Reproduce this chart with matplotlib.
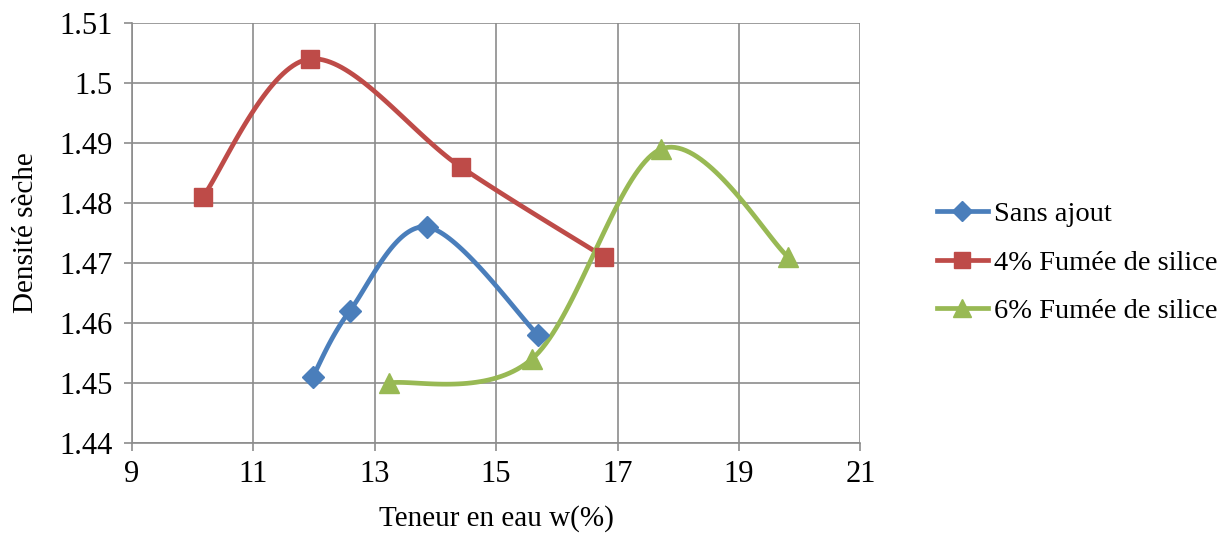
import numpy as np
import matplotlib
matplotlib.use("Agg")
import matplotlib.pyplot as plt

plt.rcParams['font.family'] = ['Liberation Serif', 'DejaVu Serif']

# data
w_sans = [11.98, 12.59, 13.86, 15.69]
d_sans = [1.451, 1.462, 1.476, 1.458]

w_4 = [10.17, 11.93, 14.42, 16.78]
d_4 = [1.481, 1.504, 1.486, 1.471]

w_6 = [13.24, 15.59, 17.72, 19.81]
d_6 = [1.450, 1.454, 1.489, 1.471]

labels = ['Sans ajout', '4% Fumée de silice', '6% Fumée de silice']
colors = ['#4A7EBB', '#BE4B48', '#98B954']
markers = ['D', 's', '^']
msizes = [11, 13, 14]


def smooth(x, y, n=40):
    # Excel-like smoothed line: cubic Bezier with Catmull-Rom control points
    x = np.asarray(x, float)
    y = np.asarray(y, float)
    px = np.concatenate([[x[0]], x, [x[-1]]])
    py = np.concatenate([[y[0]], y, [y[-1]]])
    xs, ys = [], []
    t = np.linspace(0, 1, n)
    for i in range(1, len(px) - 2):
        p0 = np.array([px[i], py[i]])
        p3 = np.array([px[i + 1], py[i + 1]])
        p1 = p0 + (np.array([px[i + 1], py[i + 1]]) - np.array([px[i - 1], py[i - 1]])) / 6
        p2 = p3 - (np.array([px[i + 2], py[i + 2]]) - np.array([px[i], py[i]])) / 6
        b = ((1 - t) ** 3)[:, None] * p0 + (3 * (1 - t) ** 2 * t)[:, None] * p1 \
            + (3 * (1 - t) * t ** 2)[:, None] * p2 + (t ** 3)[:, None] * p3
        xs.extend(b[:, 0])
        ys.extend(b[:, 1])
    return xs, ys


fig = plt.figure(figsize=(12.31, 5.35), dpi=100)
ax = fig.add_axes([0.107, 0.172, 0.592, 0.785])

handles = []
for wx, dy, lab, c, m, ms in zip([w_sans, w_4, w_6], [d_sans, d_4, d_6], labels, colors, markers, msizes):
    sx, sy = smooth(wx, dy)
    ax.plot(sx, sy, color=c, lw=3.4, solid_capstyle='round', zorder=3)
    ax.plot(wx, dy, ls='none', marker=m, ms=ms, color=c, zorder=4)
    h, = ax.plot([], [], color=c, lw=3.4, marker=m, ms=ms * 0.9, label=lab)
    handles.append(h)

ax.set_xlim(9, 21)
ax.set_ylim(1.44, 1.51)
ax.set_xticks(np.arange(9, 22, 2))
ax.set_yticks(np.arange(1.44, 1.5101, 0.01))
ax.set_yticklabels(['1.44', '1.45', '1.46', '1.47', '1.48', '1.49', '1.5', '1.51'])
ax.grid(True, color='#8C8C8C', lw=1.2)
ax.set_axisbelow(True)
for s in ['top', 'right']:
    ax.spines[s].set_visible(False)
for s in ['left', 'bottom']:
    ax.spines[s].set_color('#8C8C8C')
    ax.spines[s].set_linewidth(1.2)
ax.tick_params(axis='both', labelsize=22, color='#8C8C8C', length=6, width=1.2)
ax.tick_params(axis='x', pad=6)
ax.tick_params(axis='y', pad=8)
ax.set_xlabel('Teneur en eau w(%)', fontsize=21, labelpad=12)
ax.set_ylabel('Densité sèche', fontsize=21, labelpad=14)

fig.legend(handles=handles, loc='center left', bbox_to_anchor=(0.740, 0.509),
           frameon=False, fontsize=20.5, handlelength=1.8, handletextpad=0.2,
           labelspacing=0.8)

fig.savefig('out.png', dpi=100)
